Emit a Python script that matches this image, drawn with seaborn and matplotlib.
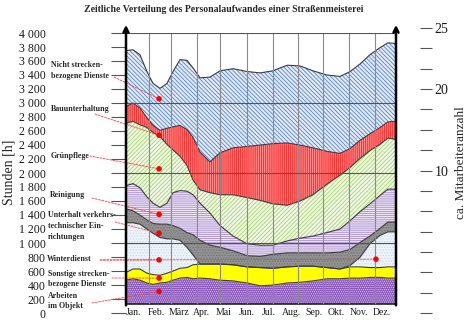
import numpy as np
import pandas as pd
import matplotlib
matplotlib.use("Agg")
import matplotlib.pyplot as plt
import seaborn as sns

# ---------------- data (hours per month) ----------------
monat_pos = [-0.35, -0.04, 0.27, 0.58, 0.85, 1.16, 1.47, 1.74, 2.05, 2.36, 2.63, 2.94,
             3.38, 3.83, 4.41, 5.03, 5.61, 6.18, 6.81, 7.38, 7.96, 8.58, 9.16, 9.61,
             10.06, 10.49, 10.94, 11.29, 11.65]

arbeiten_objekt = [470, 490, 470, 430, 410, 430, 440, 470, 500, 510, 490, 500, 490, 470, 460,
                   430, 390, 400, 430, 440, 460, 490, 490, 500, 500, 510, 510, 500, 500]
sonstige_dienste = [110, 140, 160, 140, 140, 110, 130, 130, 140, 140, 200, 200, 210, 230, 230,
                    230, 260, 240, 230, 230, 210, 160, 140, 160, 160, 140, 140, 160, 160]
winterdienst = [710, 660, 640, 630, 590, 540, 490, 460, 400, 290, 140, 0, 0, 0, 0,
                0, 0, 0, 0, 0, 0, 0, 0, 20, 140, 340, 460, 500, 500]
unterhalt_vte = [200, 170, 130, 130, 140, 190, 210, 190, 170, 210, 290, 340, 270, 240, 200,
                 160, 160, 200, 200, 190, 190, 210, 240, 230, 210, 110, 100, 140, 140]
reinigung = [330, 390, 390, 330, 290, 240, 300, 470, 540, 590, 570, 530, 460, 310, 210,
             170, 160, 130, 170, 210, 240, 290, 330, 410, 440, 460, 470, 470, 470]
gruenpflege = [890, 890, 900, 990, 1010, 1010, 840, 610, 490, 370, 210, 190, 290, 440, 590,
               660, 640, 590, 510, 530, 590, 690, 770, 760, 760, 760, 730, 730, 710]
bauunterhaltung = [240, 260, 240, 140, 100, 90, 230, 330, 440, 510, 610, 540, 440, 600, 670,
                   730, 790, 860, 890, 800, 670, 470, 310, 270, 260, 240, 240, 230, 260]
nicht_strecken = [800, 760, 760, 660, 600, 600, 640, 790, 940, 990, 990, 1060, 1210, 1170, 1130,
                  1070, 1030, 1040, 1110, 1130, 1100, 1090, 1100, 1100, 1090, 1130, 1140, 1130, 1110]

monate = ["Jan.", "Feb.", "März", "Apr.", "Mai", "Jun.", "Jul.", "Aug.", "Sep.", "Okt.", "Nov.", "Dez."]
gitter_x = [0.67, 1.65, 2.81, 3.83, 5.03, 6.18, 7.29, 8.40, 9.56, 10.72]

stunden_ticks = list(range(0, 4001, 200))
mitarbeiter_ticks = list(range(15))
mitarbeiter_labels = {14: "25", 11: "20", 7: "10"}

beschriftungen = ["Nicht strecken-\nbezogene Dienste", "Bauunterhaltung", "Grünpflege", "Reinigung",
                  "Unterhalt verkehrs-\ntechnischer Ein-\nrichtungen", "Winterdienst",
                  "Sonstige strecken-\nbezogene Dienste", "Arbeiten\nim Objekt"]
punkt_x = [1.12, 1.12, 1.12, 1.12, 1.12, 1.12, 1.12, 1.12, 10.76]
punkt_y = [3060, 2540, 2060, 1410, 1140, 760, 500, 310, 770]

# ---------------- style ----------------
sns.set_theme(style="white")
plt.rcParams["font.family"] = ["Liberation Serif", "DejaVu Serif"]
plt.rcParams["hatch.linewidth"] = 0.6

W, H = 467, 325
fig = plt.figure(figsize=(W / 100, H / 100), dpi=100)


def px_box(x0, y0, x1, y1):
    return [x0 / W, 1 - y1 / H, (x1 - x0) / W, (y1 - y0) / H]


# left scale (separate, slightly offset scale like in the original)
axl = fig.add_axes(px_box(126, 33, 396, 313), frameon=False)
axl.set_ylim(0, 4000)
axl.set_xlim(0, 1)
axl.set_xticks([])
axl.set_yticks(stunden_ticks)
axl.set_yticklabels([f"{v:,}".replace(",", " ") for v in stunden_ticks])
axl.tick_params(axis="y", direction="out", length=10.8, width=0.8, color="#555555",
                pad=47, labelsize=8.5, left=True, labelcolor="#1a1a1a")
for s in axl.spines.values():
    s.set_visible(False)

# main plot
ax = fig.add_axes(px_box(126, 33, 396, 304))
ax.set_xlim(-0.35, 11.65)
ax.set_ylim(130, 4000)

schichten = [arbeiten_objekt, sonstige_dienste, winterdienst, unterhalt_vte,
             reinigung, gruenpflege, bauunterhaltung, nicht_strecken]
stile = [
    dict(fc="#8a58bb", hc="#d4c2ea", hatch="........"),
    dict(fc="#ffff00", hc="#ffff00", hatch=None),
    dict(fc="#eef4f9", hc="#cbdbea", hatch="......"),
    dict(fc="#929292", hc="#767676", hatch="......"),
    dict(fc="#eee4f6", hc="#a98fcd", hatch="--------"),
    dict(fc="#f3f9ea", hc="#a3d36a", hatch="////////"),
    dict(fc="#ff8888", hc="#ff2020", hatch="||||||||"),
    dict(fc="#e2ebf7", hc="#5b84c6", hatch="\\" * 8),
]

unten = np.zeros(len(monat_pos))
grenzen = []
for i, (werte, st) in enumerate(zip(schichten, stile)):
    oben = unten + np.array(werte, dtype=float)
    ax.fill_between(monat_pos, unten, oben, facecolor=st["fc"], edgecolor=st["hc"],
                    hatch=st["hatch"], linewidth=0, zorder=1)
    grenzen.append(pd.DataFrame({"x": monat_pos, "y": oben, "schicht": i}))
    unten = oben

df_lin = pd.concat(grenzen, ignore_index=True)
sns.lineplot(data=df_lin, x="x", y="y", units="schicht", estimator=None,
             color="#3c3c3c", linewidth=0.8, ax=ax, zorder=2, legend=False)

# grids
ax.set_yticks([1000, 2000, 3000, 4000])
ax.set_yticklabels([])
ax.set_xticks(range(12))
ax.set_xticklabels(monate)
ax.set_xticks(gitter_x, minor=True)
ax.tick_params(axis="both", which="both", length=0)
ax.tick_params(axis="x", which="major", pad=3, labelsize=7, labelcolor="#1a1a1a")
ax.grid(axis="y", which="major", color="#555555", linewidth=0.8)
ax.grid(axis="x", which="major", visible=False)
ax.grid(axis="x", which="minor", color="#8a8a8a", linewidth=0.8)
ax.set_axisbelow(False)
ax.set_xlabel("")
ax.set_ylabel("")
for k in ["left", "right", "top"]:
    ax.spines[k].set_visible(False)
ax.spines["bottom"].set_color("#222222")
ax.spines["bottom"].set_linewidth(1.2)

# axis arrows
for xf in (0, 1):
    ax.annotate("", xy=(xf, 1.03), xytext=(xf, -0.005), xycoords="axes fraction",
                arrowprops=dict(arrowstyle="->", lw=1.8, color="black", shrinkA=0, shrinkB=0,
                                mutation_scale=9), annotation_clip=False, zorder=6)

# right scale
axr = fig.add_axes(px_box(419, 28, 420, 313), frameon=False)
axr.set_ylim(0, 14)
axr.set_xticks([])
axr.yaxis.tick_right()
axr.set_yticks(mitarbeiter_ticks)
axr.set_yticklabels([mitarbeiter_labels.get(t, "") for t in mitarbeiter_ticks])
axr.tick_params(axis="y", direction="out", length=8.6, width=0.8, color="#555555",
                pad=2, labelsize=10, labelcolor="#1a1a1a")
for k, s in axr.spines.items():
    s.set_visible(k == "right")
axr.spines["right"].set_color("#555555")
axr.spines["right"].set_linewidth(0.8)

# texts
fig.text(224 / W, 1 - 10 / H, "Zeitliche Verteilung des Personalaufwandes einer Straßenmeisterei",
         ha="center", va="center", fontsize=7, fontweight="bold")
fig.text(9 / W, 1 - 172 / H, "Stunden [h]", rotation=90, ha="center", va="center", fontsize=10)
fig.text(461 / W, 1 - 163 / H, "ca. Mitarbeiteranzahl", rotation=90, ha="center", va="center",
         fontsize=9.5)

text_pos = [(51, 70.5), (51, 109), (51, 156), (50, 195), (48, 226), (47, 259), (48, 279), (48, 301)]
for t, (tx, ty) in zip(beschriftungen, text_pos):
    fig.text(tx / W, 1 - ty / H, t, ha="left", va="center", fontsize=5.7, fontweight="bold",
             linespacing=1.45)

leader_start = [(114, 77), (95, 114), (90, 156), (92, 198), (115, 222), (100, 260), (112, 278),
                (92, 303), (100, 260)]
for (sx, sy), px, py in zip(leader_start, punkt_x, punkt_y):
    ax.annotate("", xy=(px, py), xycoords="data", xytext=(sx, H - sy), textcoords="figure pixels",
                arrowprops=dict(arrowstyle="-", color="#ff4040", lw=0.6, linestyle=(0, (2.5, 1.5)),
                                shrinkA=0, shrinkB=0), annotation_clip=False, zorder=4)

sns.scatterplot(x=punkt_x, y=punkt_y, color="#ff0000", s=16, edgecolor="none", ax=ax, zorder=5,
                legend=False)
ax.set_xlabel("")
ax.set_ylabel("")

fig.savefig("out.png", dpi=100)
